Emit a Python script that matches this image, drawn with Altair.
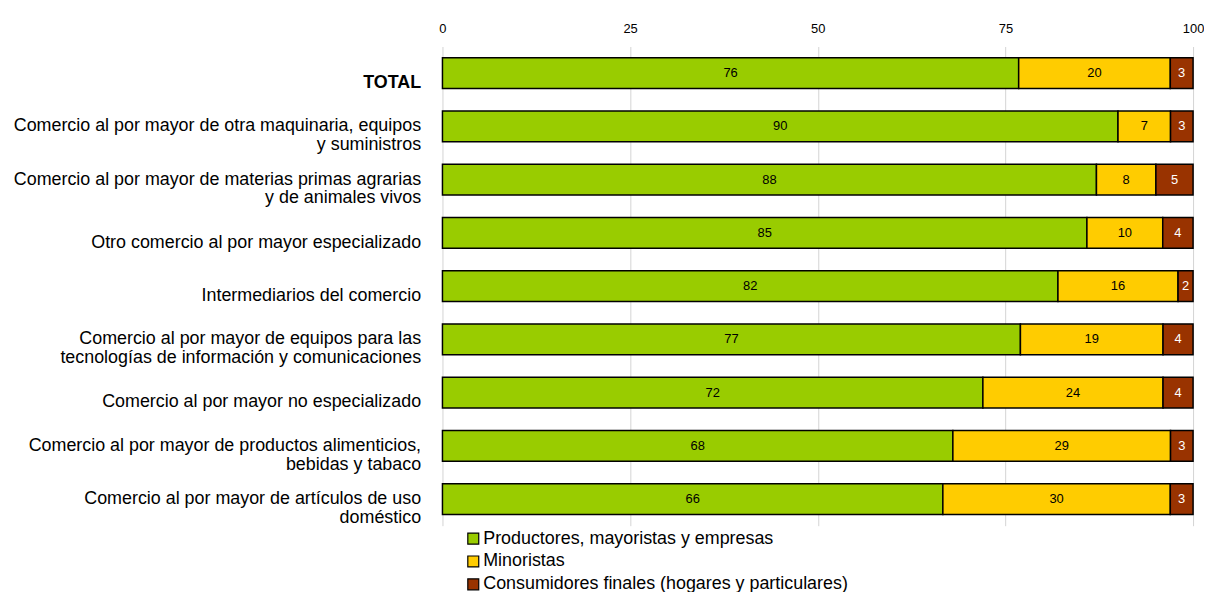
import altair as alt
import pandas as pd

categories = [
    "TOTAL",
    "Comercio al por mayor de otra maquinaria, equipos|y suministros",
    "Comercio al por mayor de materias primas agrarias|y de animales vivos",
    "Otro comercio al por mayor especializado",
    "Intermediarios del comercio",
    "Comercio al por mayor de equipos para las|tecnologías de información y comunicaciones",
    "Comercio al por mayor no especializado",
    "Comercio al por mayor de productos alimenticios,|bebidas y tabaco",
    "Comercio al por mayor de artículos de uso|doméstico",
]
series = [
    "Productores, mayoristas y empresas",
    "Minoristas",
    "Consumidores finales (hogares y particulares)",
]
productores = [76, 90, 88, 85, 82, 77, 72, 68, 66]
minoristas = [20, 7, 8, 10, 16, 19, 24, 29, 30]
consumidores = [3, 3, 5, 4, 2, 4, 4, 3, 3]
colors = ["#99CC00", "#FFCC00", "#993300"]
ticks = [0, 25, 50, 75, 100]

rows = []
for i, c in enumerate(categories):
    for j, vals in enumerate([productores, minoristas, consumidores]):
        rows.append({"cat": c, "serie": series[j], "value": vals[i], "order": j})
df = pd.DataFrame(rows)

FONT = "Liberation Sans"

base = (
    alt.Chart(df)
    .transform_joinaggregate(total="sum(value)", groupby=["cat"])
    .transform_calculate(pct="datum.value / datum.total * 100")
    .transform_stack(stack="pct", groupby=["cat"], as_=["x0", "x1"],
                     sort=[alt.SortField("order", order="ascending")])
    .transform_calculate(xm="(datum.x0 + datum.x1) / 2")
)

y_enc = alt.Y(
    "cat:N",
    sort=categories,
    title=None,
    scale=alt.Scale(paddingInner=0, paddingOuter=0),
    axis=alt.Axis(
        labelExpr="split(datum.value, '|')",
        labelFontSize=18,
        labelFont=FONT,
        labelColor="#000000",
        labelLimit=700,
        labelPadding=22,
        labelOffset={"condition": {"test": "indexof(datum.value, '|') >= 0", "value": 0}, "value": 10},
        labelLineHeight=19,
        labelFontWeight={"condition": {"test": "datum.value == 'TOTAL'", "value": "bold"}, "value": "normal"},
        ticks=False,
        domain=False,
        grid=False,
        minExtent=437,
        maxExtent=437,
    ),
)

bars = base.mark_bar(stroke="black", strokeWidth=1.5, size=31).encode(
    y=y_enc,
    x=alt.X(
        "x0:Q",
        title=None,
        scale=alt.Scale(domain=[0, 100], nice=False),
        axis=alt.Axis(
            orient="top",
            values=ticks,
            labelFontSize=13,
            labelFont=FONT,
            labelColor="#000000",
            labelFlush=False,
            labelPadding=11,
            ticks=False,
            domain=False,
            grid=True,
            gridColor="#d4d4d4",
            gridWidth=1,
            minExtent=37,
            maxExtent=37,
        ),
    ),
    x2="x1:Q",
    color=alt.Color(
        "serie:N",
        sort=series,
        scale=alt.Scale(domain=series, range=colors),
        legend=alt.Legend(
            title=None,
            orient="none",
            legendX=22,
            legendY=486,
            direction="vertical",
            symbolType="square",
            symbolSize=121,
            symbolStrokeColor="black",
            symbolStrokeWidth=1.2,
            symbolOpacity=1,
            labelFontSize=18,
            labelFont=FONT,
            labelColor="#000000",
            labelOffset=1,
            rowPadding=5,
            labelLimit=700,
        ),
    ),
)

text = base.mark_text(fontSize=13, font=FONT, baseline="middle", align="center").encode(
    y=alt.Y("cat:N", sort=categories),
    x=alt.X("xm:Q"),
    text=alt.Text("value:Q", format="d"),
    color=alt.condition(
        "datum.serie == 'Consumidores finales (hogares y particulares)'",
        alt.value("white"),
        alt.value("black"),
    ),
)

chart = (
    alt.layer(bars, text)
    .properties(width=755, height=482, padding=0)
    .configure_view(stroke=None)
)

chart.save("out.html", embed_options={"renderer": "svg", "actions": False})
